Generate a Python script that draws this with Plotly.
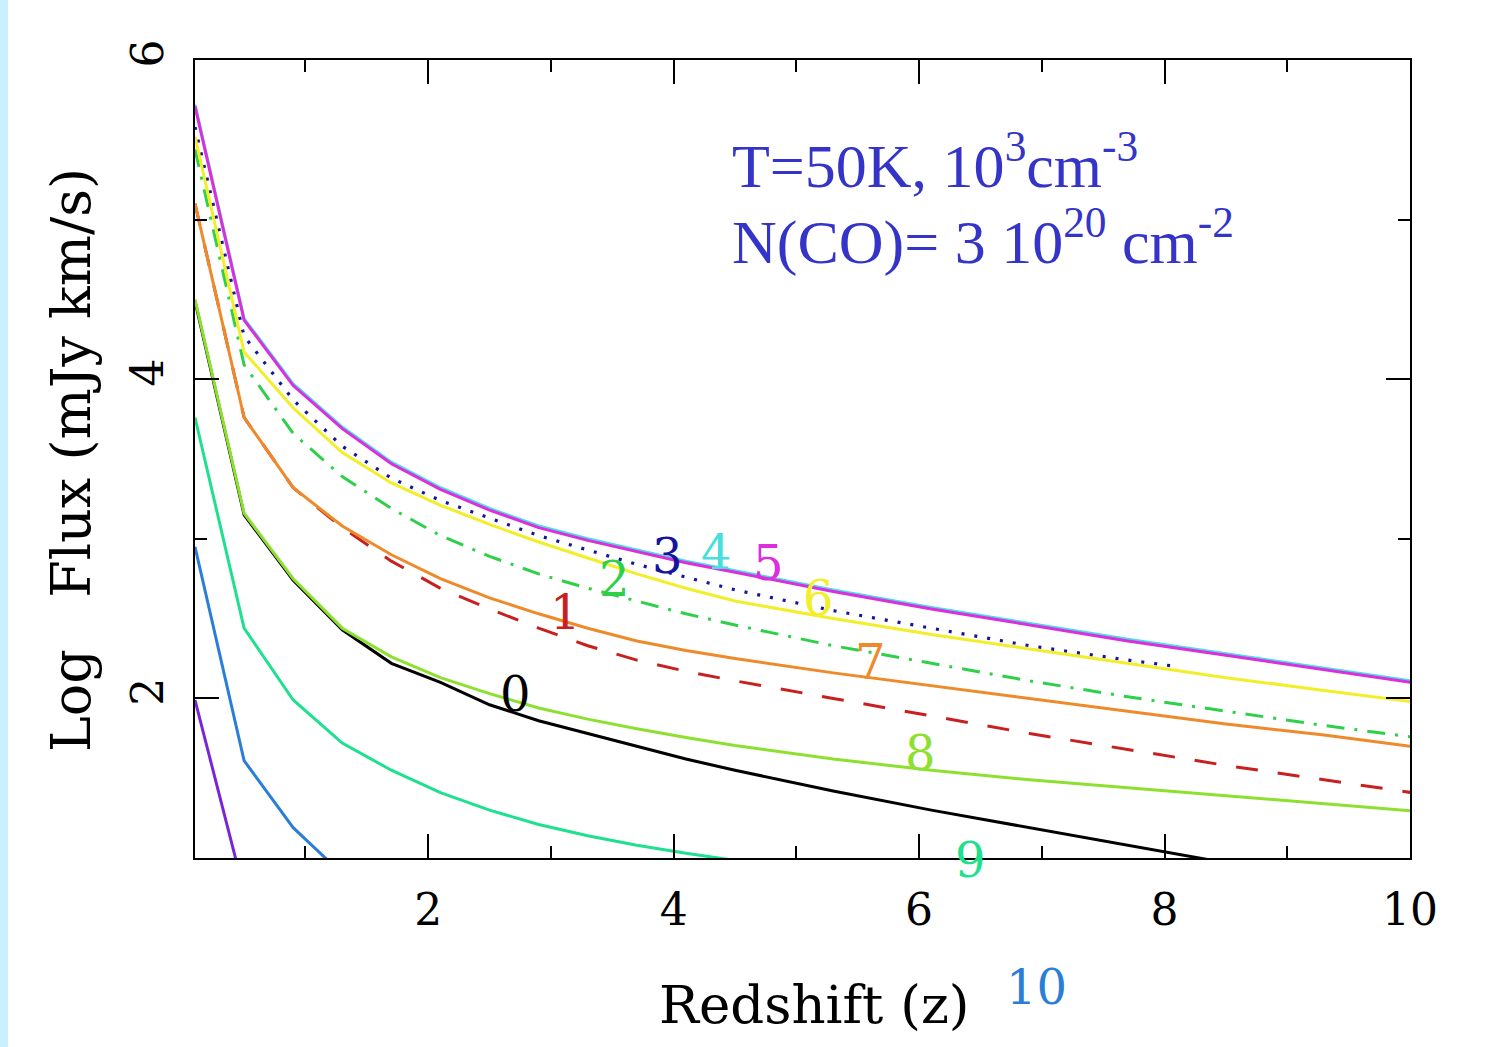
import plotly.graph_objects as go

# Redshift sampling of the model curves
z_main = [0.1, 0.5, 0.9, 1.3, 1.7, 2.1, 2.5, 2.9, 3.3, 3.7, 4.1, 4.5,
          5.3, 6.1, 6.9, 7.7, 8.5, 9.3, 10.1]
z_j0 = z_main[:17]
z_j3 = [0.1, 0.5, 0.9, 1.3, 1.7, 2.1, 2.5, 2.9, 3.3, 3.7, 4.1, 4.5,
        5.3, 6.1, 6.9, 7.7, 8.1]
z_j9 = z_main[:13]
z_j10 = [0.1, 0.5, 0.9, 1.3]
z_j11 = [0.1, 0.5]

# Log flux (mJy km/s) of each CO rotational line, labelled by upper level J
flux_j0 = [4.49, 3.15, 2.74, 2.43, 2.22, 2.10, 1.96, 1.86, 1.78, 1.70, 1.62, 1.55,
           1.42, 1.30, 1.19, 1.08, 0.97]
flux_j1 = [5.10, 3.76, 3.32, 3.07, 2.86, 2.69, 2.56, 2.44, 2.33, 2.24, 2.17, 2.11,
           2.00, 1.89, 1.78, 1.68, 1.58, 1.49, 1.40]
flux_j2 = [5.44, 4.09, 3.66, 3.39, 3.19, 3.02, 2.89, 2.78, 2.69, 2.61, 2.53, 2.46,
           2.33, 2.22, 2.11, 2.01, 1.92, 1.83, 1.75]
flux_j3 = [5.58, 4.27, 3.87, 3.58, 3.38, 3.24, 3.13, 3.02, 2.93, 2.84, 2.76, 2.68,
           2.55, 2.44, 2.33, 2.24, 2.20]
flux_j4 = [5.72, 4.38, 3.97, 3.70, 3.48, 3.32, 3.19, 3.08, 3.00, 2.93, 2.86, 2.80,
           2.68, 2.57, 2.47, 2.37, 2.28, 2.19, 2.10]
flux_j5 = [5.71, 4.37, 3.96, 3.69, 3.47, 3.31, 3.18, 3.07, 2.99, 2.92, 2.85, 2.79,
           2.67, 2.56, 2.46, 2.36, 2.27, 2.18, 2.09]
flux_j6 = [5.52, 4.17, 3.82, 3.54, 3.35, 3.21, 3.09, 2.98, 2.88, 2.78, 2.69, 2.61,
           2.50, 2.40, 2.31, 2.22, 2.13, 2.05, 1.97]
flux_j7 = [5.10, 3.76, 3.32, 3.08, 2.90, 2.75, 2.63, 2.53, 2.44, 2.36, 2.30, 2.25,
           2.16, 2.08, 2.00, 1.92, 1.84, 1.77, 1.69]
flux_j8 = [4.50, 3.16, 2.75, 2.44, 2.26, 2.13, 2.03, 1.94, 1.87, 1.81, 1.755, 1.705,
           1.62, 1.55, 1.49, 1.44, 1.39, 1.34, 1.29]
flux_j9 = [3.76, 2.44, 1.99, 1.72, 1.55, 1.41, 1.30, 1.21, 1.14, 1.08, 1.03, 0.985,
           0.91]
flux_j10 = [2.95, 1.61, 1.19, 0.90]
flux_j11 = [1.99, 0.79]

# Curve labels (text, redshift, log flux where the label sits)
label_text = ["0", "1", "2", "3", "4", "5", "6", "7", "8", "9", "10"]
label_z = [2.71, 3.12, 3.52, 3.95, 4.35, 4.77, 5.18, 5.60, 6.01, 6.42, 6.96]
label_flux = [2.03, 2.54, 2.75, 2.89, 2.92, 2.85, 2.63, 2.23, 1.66, 0.99, 0.19]

line_colors = ["#000000", "#c8201e", "#2ed04a", "#14149e", "#48dede", "#dc2edc",
               "#f2ee2a", "#ee8a2a", "#8ee030", "#1ee08e", "#2a7ed6", "#7a26d2"]
line_dashes = ["solid", "22px,20px", "18px,10px,3px,10px", "3px,10px", "solid", "solid",
               "solid", "solid", "solid", "solid", "solid", "solid"]

curves = [
    (z_j0, flux_j0), (z_main, flux_j1), (z_main, flux_j2), (z_j3, flux_j3),
    (z_main, flux_j4), (z_main, flux_j5), (z_main, flux_j6), (z_main, flux_j7),
    (z_main, flux_j8), (z_j9, flux_j9), (z_j10, flux_j10), (z_j11, flux_j11),
]

fig = go.Figure()
for (zs, fs), col, dash in zip(curves, line_colors, line_dashes):
    fig.add_trace(go.Scatter(
        x=zs, y=fs, mode="lines",
        line=dict(color=col, width=3.2 if dash == "3px,10px" else 3, dash=dash),
        hoverinfo="skip",
    ))

tick_font = dict(family="DejaVu Serif", size=44, color="black")
axis_common = dict(
    ticks="inside", ticklen=24, tickwidth=2, tickcolor="black",
    showline=True, linewidth=2, linecolor="black", mirror="ticks",
    showgrid=False, zeroline=False, tickfont=tick_font,
    ticklabelstandoff=12,
)
minor_ticks = dict(tick0=0, dtick=1, ticks="inside", ticklen=12,
                   tickwidth=2, tickcolor="black", showgrid=False)

fig.update_layout(
    width=1504, height=1047,
    margin=dict(l=195, r=94, t=60, b=189),
    paper_bgcolor="white", plot_bgcolor="white",
    showlegend=False,
    xaxis=dict(range=[0.1, 10], tick0=0, dtick=2, minor=minor_ticks, **axis_common),
    yaxis=dict(range=[1, 6], tick0=0, dtick=2, tickangle=-90, minor=minor_ticks,
               **axis_common),
)

# thin light-blue band along the left edge of the page
fig.add_shape(type="rect", xref="paper", yref="paper",
              x0=-0.1605, x1=-0.1539, y0=-0.237, y1=1.076,
              fillcolor="#c9f0fd", line=dict(width=0), layer="below")

# axis titles
fig.add_annotation(text="Redshift (z)", xref="paper", yref="paper",
                   x=0.510, y=-0.184, xanchor="center", yanchor="middle",
                   showarrow=False,
                   font=dict(family="DejaVu Serif", size=53, color="black"))
fig.add_annotation(text="Log\u00a0\u00a0\u00a0Flux (mJy km/s)", xref="paper", yref="paper",
                   x=-0.101, y=0.499, xanchor="center", yanchor="middle",
                   textangle=-90, showarrow=False,
                   font=dict(family="DejaVu Serif", size=54, color="black"))

# curve labels in the colour of each line
for txt, lz, lf, col in zip(label_text, label_z, label_flux, line_colors):
    fig.add_annotation(text=txt, x=lz, xref="x", y=(lf - 1) / 5, yref="paper",
                       xanchor="center", yanchor="middle", showarrow=False,
                       font=dict(family="DejaVu Serif", size=48, color=col))

# model parameters
param_font = dict(family="Liberation Serif", size=62, color="#3434c8")
fig.add_annotation(text="T=50K, 10<sup>3</sup>cm<sup>-3</sup>", xref="paper", yref="paper",
                   x=0.440, y=0.874, xanchor="left", yanchor="middle",
                   showarrow=False, font=param_font)
fig.add_annotation(text="N(CO)= 3 10<sup>20</sup> cm<sup>-2</sup>", xref="paper", yref="paper",
                   x=0.440, y=0.777, xanchor="left", yanchor="middle",
                   showarrow=False, font=param_font)

fig.write_html("out.html")
